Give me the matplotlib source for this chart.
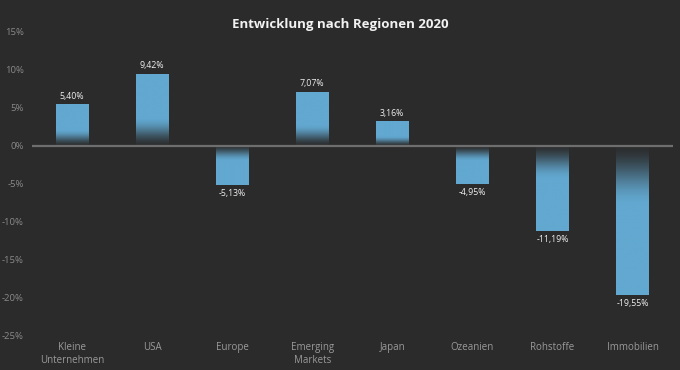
import numpy as np
import matplotlib.pyplot as plt
from matplotlib.colors import to_rgb
from matplotlib.ticker import FuncFormatter

plt.rcParams['font.family'] = ['Open Sans', 'DejaVu Sans']

kategorien = ['Kleine\nUnternehmen', 'USA', 'Europe', 'Emerging\nMarkets',
              'Japan', 'Ozeanien', 'Rohstoffe', 'Immobilien']
werte = [5.40, 9.42, -5.13, 7.07, 3.16, -4.95, -11.19, -19.55]
y_ticks = [15, 10, 5, 0, -5, -10, -15, -20, -25]

hintergrund = '#2b2b2b'
balken_farbe = '#62a8d0'
breite = 0.4


def verlauf(wert, n=200):
    # Farbverlauf: dunkel an der Nulllinie, volle Farbe ab 40% der Balkenlaenge
    bg = np.array(to_rgb(hintergrund))
    fg = np.array(to_rgb(balken_farbe))
    d = np.linspace(0, 1, n)  # 0 = Nulllinie, 1 = Balkenende
    f = np.clip(0.06 + 0.94 * d / 0.4, 0, 1)
    f = f * f * (3 - 2 * f)
    farben = bg[None, :] + (fg - bg)[None, :] * f[:, None]
    if wert > 0:
        farben = farben[::-1]  # imshow origin oben
    return farben[:, None, :]


fig = plt.figure(figsize=(6.8, 3.7), dpi=100, facecolor=hintergrund)
ax = fig.add_axes([0.047, 0.092, 0.942, 0.822])
ax.set_facecolor(hintergrund)

for i, v in enumerate(werte):
    ax.imshow(verlauf(v), extent=[i - breite / 2, i + breite / 2, min(0, v), max(0, v)],
              aspect='auto', interpolation='bilinear', zorder=2)
    if v > 0:
        ax.text(i, v + 0.55, f'{v:.2f}%'.replace('.', ','), ha='center', va='bottom',
                color='#eeeeee', fontsize=6.3)
    else:
        ax.text(i, v - 0.55, f'{v:.2f}%'.replace('.', ','), ha='center', va='top',
                color='#eeeeee', fontsize=6.3)

ax.axhline(0, color='#6e6e6e', lw=1.6, zorder=3)

ax.set_xlim(-0.5, len(werte) - 0.5)
ax.set_ylim(-25, 15)
ax.set_xticks(range(len(kategorien)))
ax.set_xticklabels(kategorien, color='#9a9a9a', fontsize=7, linespacing=1.25)
ax.set_yticks(y_ticks)
ax.yaxis.set_major_formatter(FuncFormatter(lambda v, p: f'{int(v)}%'))
ax.tick_params(axis='y', colors='#8a8a8a', labelsize=6.8, length=0, pad=6)
ax.tick_params(axis='x', length=0, pad=4)
for s in ax.spines.values():
    s.set_visible(False)

fig.text(0.5, 0.935, 'Entwicklung nach Regionen 2020', ha='center', va='center',
         color='#f2f2f2', fontsize=9.5, fontweight='bold')

fig.savefig('out.png', dpi=100, facecolor=hintergrund)
